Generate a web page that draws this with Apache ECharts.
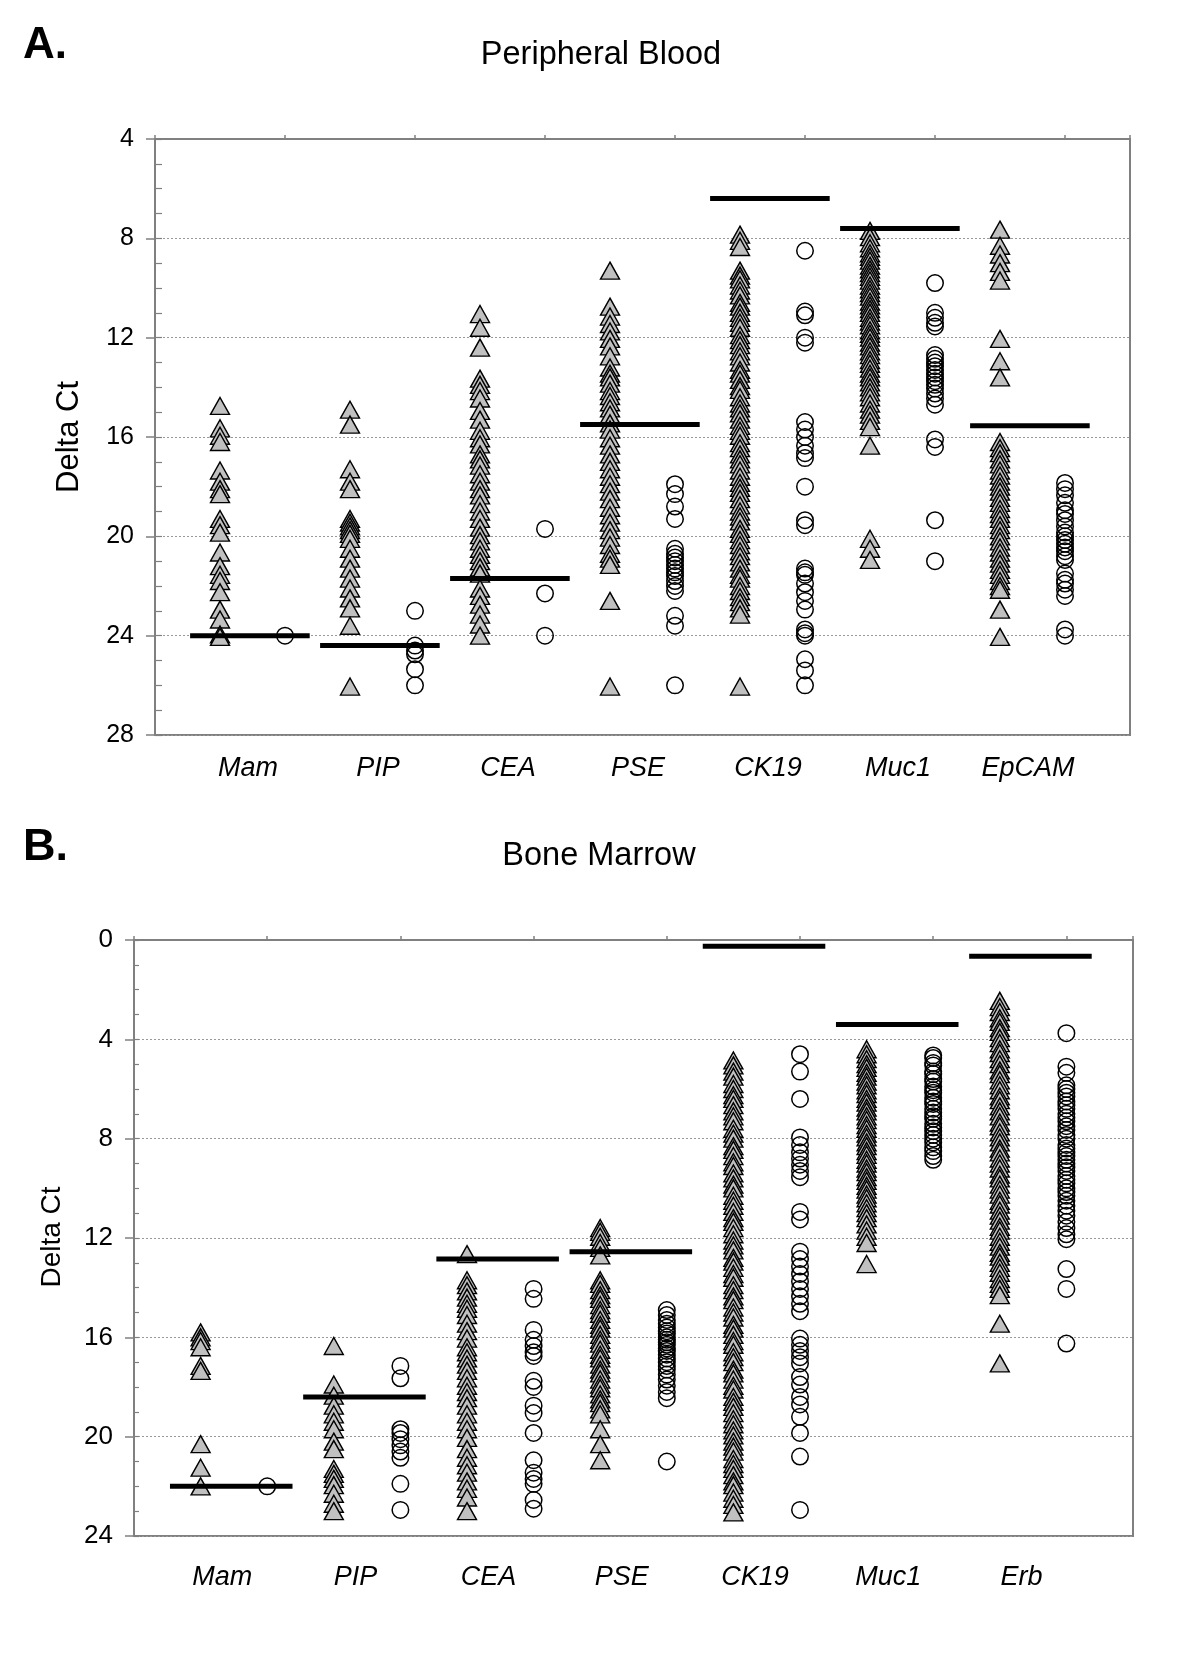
<!DOCTYPE html>
<html><head><meta charset="utf-8">
<script src="https://cdn.jsdelivr.net/npm/echarts@6/dist/echarts.min.js"></script>
<style>html,body{margin:0;padding:0;background:#fff}#c{width:1200px;height:1657px}</style>
</head><body><div id="c"></div>
<script>
// ---------- DATA ----------
const catsA = ['Mam', 'PIP', 'CEA', 'PSE', 'CK19', 'Muc1', 'EpCAM'];
const catsB = ['Mam', 'PIP', 'CEA', 'PSE', 'CK19', 'Muc1', 'Erb'];
const yTicksA = [4, 8, 12, 16, 20, 24, 28];
const yTicksB = [0, 4, 8, 12, 16, 20, 24];

// Panel A - Peripheral Blood (triangles = patients, circles = controls)
const pbMamT = [14.75, 15.65, 15.95, 16.2, 17.35, 17.8, 18.1, 18.3, 19.3, 19.55, 19.85, 20.65, 21.2, 21.55, 21.8, 22.25, 22.95, 23.35, 23.95, 24.05];
const pbMamC = [24.0];
const pbPipT = [14.9, 15.5, 17.3, 17.8, 18.1, 19.3, 19.45, 19.6, 19.75, 19.9, 20.1, 20.5, 20.9, 21.3, 21.7, 22.1, 22.5, 22.9, 23.6, 26.05];
const pbPipC = [23.0, 24.4, 24.6, 24.75, 25.35, 26.0];
const pbCeaT = [11.05, 11.6, 12.4, 13.65, 13.9, 14.15, 14.45, 14.95, 15.3, 15.75, 16.05, 16.3, 16.7, 16.9, 17.15, 17.5, 17.8, 18.1, 18.35, 18.7, 19.0, 19.3, 19.65, 19.95, 20.2, 20.5, 20.75, 21.0, 21.25, 21.5, 22.1, 22.4, 22.75, 23.15, 23.55, 24.0];
const pbCeaC = [19.7, 22.3, 24.0];
const pbPseT = [9.3, 10.75, 11.15, 11.45, 11.75, 12.05, 12.35, 12.75, 13.2, 13.45, 13.6, 13.85, 14.15, 14.35, 14.6, 14.85, 15.1, 15.45, 15.7, 16.05, 16.35, 16.7, 17.0, 17.3, 17.6, 17.9, 18.2, 18.5, 18.85, 19.15, 19.45, 19.75, 20.05, 20.35, 20.7, 20.9, 21.15, 22.6, 26.05];
const pbPseC = [17.9, 18.3, 18.8, 19.3, 20.5, 20.7, 20.85, 21.0, 21.15, 21.3, 21.45, 21.6, 21.8, 22.0, 22.2, 23.2, 23.6, 26.0];
const pbCk19T = [7.85, 8.1, 8.35, 9.3, 9.5, 9.65, 9.9, 10.1, 10.3, 10.6, 10.75, 11.0, 11.2, 11.4, 11.6, 11.9, 12.1, 12.3, 12.55, 12.75, 13.0, 13.3, 13.45, 13.7, 13.95, 14.1, 14.4, 14.65, 14.85, 15.05, 15.3, 15.55, 15.75, 15.95, 16.25, 16.45, 16.7, 16.9, 17.1, 17.35, 17.6, 17.85, 18.05, 18.25, 18.5, 18.75, 19.0, 19.2, 19.4, 19.7, 19.9, 20.15, 20.35, 20.6, 20.8, 21.05, 21.3, 21.55, 21.7, 22.0, 22.2, 22.45, 22.65, 22.9, 23.15, 26.05];
const pbCk19C = [8.5, 10.95, 11.1, 12.0, 12.2, 15.4, 15.7, 16.0, 16.35, 16.65, 16.85, 18.0, 19.35, 19.55, 21.3, 21.45, 21.55, 21.9, 22.25, 22.6, 22.95, 23.75, 23.9, 24.0, 24.95, 25.4, 26.0];
const pbMuc1T = [7.7, 7.95, 8.2, 8.4, 8.6, 8.75, 8.9, 9.1, 9.25, 9.4, 9.55, 9.7, 9.9, 10.05, 10.2, 10.35, 10.55, 10.7, 10.85, 11.0, 11.2, 11.35, 11.5, 11.7, 11.85, 12.0, 12.2, 12.35, 12.55, 12.7, 12.9, 13.05, 13.25, 13.45, 13.6, 13.8, 14.0, 14.2, 14.4, 14.65, 14.9, 15.1, 15.35, 15.6, 16.35, 20.1, 20.5, 20.95];
const pbMuc1C = [9.8, 11.0, 11.2, 11.4, 11.55, 12.7, 12.85, 13.0, 13.15, 13.3, 13.45, 13.6, 13.75, 13.9, 14.05, 14.25, 14.45, 14.7, 16.1, 16.4, 19.35, 21.0];
const pbEpcamT = [7.65, 8.3, 8.65, 9.0, 9.35, 9.7, 12.05, 12.95, 13.6, 16.2, 16.45, 16.65, 16.9, 17.1, 17.35, 17.55, 17.8, 18.0, 18.2, 18.45, 18.65, 18.9, 19.1, 19.3, 19.55, 19.75, 20.0, 20.2, 20.45, 20.65, 20.9, 21.1, 21.35, 21.55, 21.8, 22.0, 22.15, 22.95, 24.05];
const pbEpcamC = [17.85, 18.1, 18.35, 18.65, 18.95, 19.1, 19.35, 19.6, 19.85, 20.0, 20.15, 20.3, 20.45, 20.6, 20.8, 20.95, 21.5, 21.75, 21.9, 22.15, 22.4, 23.75, 24.0];
const pbMedians = [24.0, 24.4, 21.7, 15.5, 6.4, 7.6, 15.55];

// Panel B - Bone Marrow
const bmMamT = [15.8, 16.0, 16.15, 16.4, 17.15, 17.35, 20.3, 21.25, 22.0];
const bmMamC = [22.0];
const bmPipT = [16.35, 17.9, 18.35, 18.75, 19.1, 19.4, 19.7, 20.2, 20.5, 21.3, 21.5, 21.7, 21.95, 22.3, 22.7, 23.0];
const bmPipC = [17.15, 17.65, 19.7, 19.85, 20.1, 20.35, 20.6, 20.85, 21.9, 22.95];
const bmCeaT = [12.65, 13.7, 13.9, 14.15, 14.4, 14.65, 14.85, 15.1, 15.45, 15.75, 16.05, 16.4, 16.6, 16.85, 17.1, 17.35, 17.65, 17.95, 18.2, 18.45, 18.75, 19.1, 19.4, 19.7, 20.05, 20.5, 20.85, 21.15, 21.45, 21.8, 22.1, 22.45, 23.0];
const bmCeaC = [14.05, 14.45, 15.7, 16.1, 16.35, 16.6, 16.75, 17.75, 18.0, 18.75, 19.05, 19.85, 20.95, 21.45, 21.7, 21.9, 22.55, 22.9];
const bmPseT = [11.6, 11.75, 11.95, 12.2, 12.4, 12.7, 13.7, 13.85, 14.1, 14.3, 14.45, 14.7, 14.9, 15.05, 15.3, 15.5, 15.65, 15.9, 16.1, 16.25, 16.5, 16.7, 16.85, 17.1, 17.3, 17.45, 17.7, 17.9, 18.05, 18.3, 18.5, 18.65, 18.9, 19.1, 19.7, 20.3, 20.95];
const bmPseC = [14.9, 15.1, 15.3, 15.45, 15.6, 15.75, 15.85, 16.0, 16.1, 16.2, 16.3, 16.45, 16.55, 16.7, 16.85, 17.0, 17.15, 17.3, 17.5, 17.7, 17.95, 18.2, 18.45, 21.0];
const bmCk19T = [4.85, 5.05, 5.3, 5.5, 5.8, 6.0, 6.25, 6.4, 6.65, 6.9, 7.1, 7.3, 7.6, 7.8, 8.0, 8.3, 8.45, 8.7, 8.95, 9.1, 9.4, 9.6, 9.85, 10.0, 10.3, 10.5, 10.7, 10.95, 11.2, 11.35, 11.6, 11.85, 12.1, 12.3, 12.5, 12.8, 12.95, 13.2, 13.45, 13.6, 13.9, 14.1, 14.35, 14.5, 14.8, 15.0, 15.2, 15.5, 15.65, 15.9, 16.15, 16.3, 16.6, 16.8, 17.0, 17.3, 17.45, 17.7, 17.95, 18.1, 18.4, 18.6, 18.8, 19.05, 19.3, 19.5, 19.75, 19.95, 20.2, 20.4, 20.6, 20.9, 21.1, 21.3, 21.55, 21.8, 21.95, 22.25, 22.5, 22.75, 23.05];
const bmCk19C = [4.6, 5.3, 6.4, 7.95, 8.25, 8.55, 8.8, 9.05, 9.3, 9.55, 10.95, 11.25, 12.55, 12.85, 13.15, 13.45, 13.75, 14.05, 14.35, 14.65, 14.95, 16.05, 16.3, 16.55, 16.8, 17.05, 17.6, 17.9, 18.4, 18.7, 19.2, 19.85, 20.8, 22.95];
const bmMuc1T = [4.4, 4.6, 4.8, 5.0, 5.15, 5.35, 5.5, 5.7, 5.85, 6.05, 6.2, 6.4, 6.55, 6.75, 6.9, 7.1, 7.25, 7.45, 7.6, 7.8, 7.95, 8.15, 8.3, 8.5, 8.65, 8.85, 9.0, 9.2, 9.35, 9.55, 9.7, 9.9, 10.05, 10.25, 10.4, 10.6, 10.8, 11.0, 11.2, 11.45, 11.7, 11.95, 12.2, 13.05];
const bmMuc1C = [4.65, 4.75, 4.95, 5.05, 5.3, 5.4, 5.6, 5.7, 5.9, 6.05, 6.15, 6.35, 6.5, 6.6, 6.8, 6.95, 7.1, 7.2, 7.4, 7.55, 7.7, 7.85, 8.0, 8.15, 8.35, 8.5, 8.7, 8.85];
const bmErbT = [2.45, 2.7, 2.9, 3.15, 3.3, 3.55, 3.7, 3.95, 4.15, 4.4, 4.55, 4.8, 5.0, 5.25, 5.4, 5.65, 5.85, 6.05, 6.3, 6.45, 6.7, 6.9, 7.1, 7.35, 7.5, 7.75, 7.95, 8.15, 8.4, 8.55, 8.8, 9.0, 9.2, 9.45, 9.6, 9.85, 10.05, 10.25, 10.5, 10.65, 10.9, 11.1, 11.3, 11.55, 11.7, 11.95, 12.15, 12.35, 12.6, 12.75, 13.0, 13.2, 13.4, 13.65, 13.85, 14.05, 14.3, 15.45, 17.05];
const bmErbC = [3.75, 5.1, 5.35, 5.85, 6.0, 6.15, 6.3, 6.5, 6.65, 6.8, 7.0, 7.15, 7.3, 7.5, 7.65, 7.85, 8.0, 8.25, 8.4, 8.55, 8.7, 8.85, 9.0, 9.15, 9.3, 9.5, 9.65, 9.8, 10.0, 10.15, 10.3, 10.5, 10.7, 10.9, 11.1, 11.35, 11.6, 11.85, 12.05, 13.25, 14.05, 16.25];
const bmMedians = [22.0, 18.4, 12.85, 12.55, 0.25, 3.4, 0.65];

// ---------- CHART ----------
const FONT = "'Liberation Sans', Arial, Helvetica, sans-serif";
const GRAY = '#808080';

const trisA = [pbMamT, pbPipT, pbCeaT, pbPseT, pbCk19T, pbMuc1T, pbEpcamT];
const circsA = [pbMamC, pbPipC, pbCeaC, pbPseC, pbCk19C, pbMuc1C, pbEpcamC];
const trisB = [bmMamT, bmPipT, bmCeaT, bmPseT, bmCk19T, bmMuc1T, bmErbT];
const circsB = [bmMamC, bmPipC, bmCeaC, bmPseC, bmCk19C, bmMuc1C, bmErbC];

function toPoints(groups, off) {
  const out = [];
  groups.forEach((vals, k) => vals.forEach(v => out.push([k + off, v])));
  return out;
}
function triSeries(groups, xi, yi) {
  return { type: 'scatter', xAxisIndex: xi, yAxisIndex: yi, data: toPoints(groups, 0.5),
    symbol: 'triangle', symbolSize: [19, 17], silent: true, z: 3,
    itemStyle: { color: '#c0c0c0', borderColor: '#000', borderWidth: 1.4, opacity: 1 } };
}
function circSeries(groups, xi, yi) {
  return { type: 'scatter', xAxisIndex: xi, yAxisIndex: yi, data: toPoints(groups, 1.0),
    symbol: 'circle', symbolSize: 16.5, silent: true, z: 3,
    itemStyle: { color: 'rgba(255,255,255,0)', borderColor: '#000', borderWidth: 1.5, opacity: 1 } };
}
function medianSeries(meds, xi, yi) {
  return meds.map((m, k) => ({ type: 'line', xAxisIndex: xi, yAxisIndex: yi,
    data: [[k + 0.27, m], [k + 1.19, m]], symbol: 'none', silent: true, z: 5,
    lineStyle: { color: '#000', width: 5, cap: 'butt' } }));
}
function xTop(gi) {
  return { gridIndex: gi, type: 'value', position: 'top', min: 0, max: 7.5, interval: 1,
    axisLine: { show: true, onZero: false, lineStyle: { color: GRAY, width: 2 } },
    axisTick: { show: true, inside: false, length: 4, lineStyle: { color: GRAY, width: 1.5 } },
    axisLabel: { show: false }, splitLine: { show: false } };
}
function xBottom(gi, cats, shift, margin) {
  return { gridIndex: gi, type: 'value', position: 'bottom', min: 0, max: 7.5, interval: 1,
    axisLine: { show: false, onZero: false }, axisTick: { show: false }, splitLine: { show: false },
    axisLabel: { show: true, margin: margin, fontSize: 27, fontStyle: 'italic', fontFamily: FONT, color: '#000',
      padding: [0, shift * 2, 0, 0], showMinLabel: true, showMaxLabel: true,
      formatter: v => { const i = Math.round(v); return (Math.abs(v - i) < 1e-6 && i >= 1 && i <= cats.length) ? cats[i - 1] : ''; } } };
}
function yMain(gi, ticks, fs) {
  return { gridIndex: gi, type: 'value', position: 'left', inverse: true,
    min: ticks[0], max: ticks[ticks.length - 1], interval: ticks[1] - ticks[0],
    axisLine: { show: true, onZero: false, lineStyle: { color: GRAY, width: 2 } },
    axisTick: { show: true, inside: false, length: 9, lineStyle: { color: GRAY, width: 1.5 } },
    axisLabel: { fontSize: fs, fontFamily: FONT, color: '#000', margin: 21 },
    splitLine: { show: true, lineStyle: { type: [2, 2], color: '#999', width: 1 } } };
}
function yMinor(gi, ticks, len) {
  return { gridIndex: gi, type: 'value', position: 'left', inverse: true,
    min: ticks[0], max: ticks[ticks.length - 1], interval: 1,
    axisLine: { show: false, onZero: false },
    axisTick: { show: true, inside: true, length: len, lineStyle: { color: GRAY, width: 1.2 } },
    axisLabel: { show: false }, splitLine: { show: false } };
}
function txt(text, x, y, font, align, rot) {
  return { type: 'text', x: x, y: y, rotation: rot || 0, silent: true,
    style: { text: text, font: font, fill: '#000', align: align, verticalAlign: 'middle',
      textAlign: align, textVerticalAlign: 'middle' } };
}

const option = {
  animation: false,
  backgroundColor: '#fff',
  grid: [
    { left: 155, top: 139, width: 975, height: 596, show: true, borderColor: GRAY, borderWidth: 2, backgroundColor: 'transparent' },
    { left: 134, top: 940, width: 999, height: 596, show: true, borderColor: GRAY, borderWidth: 2, backgroundColor: 'transparent' }
  ],
  xAxis: [ xTop(0), xBottom(0, catsA, 37, 20), xTop(1), xBottom(1, catsB, 45, 28) ],
  yAxis: [ yMain(0, yTicksA, 25), yMinor(0, yTicksA, 7), yMain(1, yTicksB, 26), yMinor(1, yTicksB, 5) ],
  series: [
    triSeries(trisA, 0, 0), circSeries(circsA, 0, 0), ...medianSeries(pbMedians, 0, 0),
    triSeries(trisB, 2, 2), circSeries(circsB, 2, 2), ...medianSeries(bmMedians, 2, 2)
  ],
  graphic: [
    txt('A.', 23, 46, "bold 44px " + FONT, 'left'),
    txt('Peripheral Blood', 601, 55, "32.5px " + FONT, 'center'),
    txt('Delta Ct', 69, 437, "31px " + FONT, 'center', Math.PI / 2),
    txt('B.', 23, 848, "bold 45px " + FONT, 'left'),
    txt('Bone Marrow', 599, 856, "32.5px " + FONT, 'center'),
    txt('Delta Ct', 52, 1237, "28px " + FONT, 'center', Math.PI / 2)
  ]
};
const chart = echarts.init(document.getElementById('c'), null, { renderer: 'canvas', width: 1200, height: 1657 });
chart.setOption(option);
</script>
</body></html>
